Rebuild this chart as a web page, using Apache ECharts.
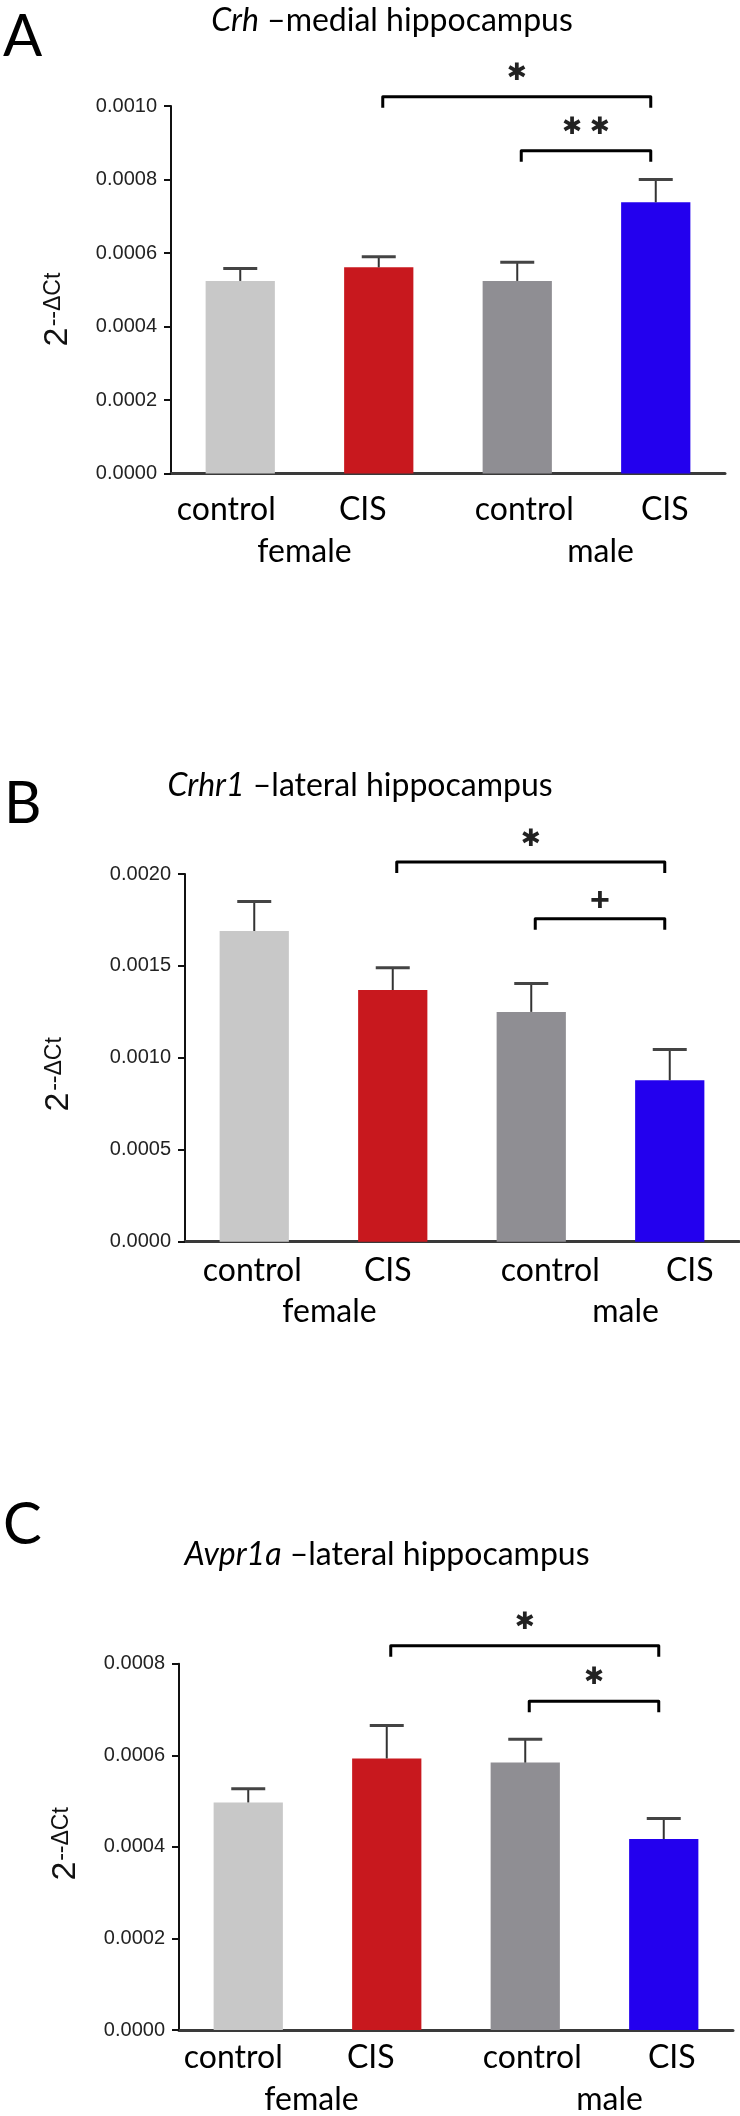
<!DOCTYPE html>
<html><head><meta charset="utf-8">
<script src="https://cdn.jsdelivr.net/npm/echarts@6/dist/echarts.min.js"></script>
<style>html,body{margin:0;padding:0;background:#fff}#c{width:740px;height:2116px}</style>
</head><body><div id="c"></div>
<script>
// ---------- data ----------
const categories = ['control', 'CIS', 'control', 'CIS'];
const groups = ['female', 'male'];
const barColors = ['#c8c8c8', '#c8181e', '#8f8e93', '#2300ee'];

const titleA = ['Crh', ' –medial hippocampus'];
const meansA = [0.000524, 0.000561, 0.000524, 0.000738];
const semA   = [0.000034, 0.000029, 0.000051, 0.000062];
const ticksA = [0, 0.0002, 0.0004, 0.0006, 0.0008, 0.0010];
const bracketsA = [[1, 3, 0.001025, '✱'], [2, 3, 0.000878, '✱ ✱']];

const titleB = ['Crhr1', ' –lateral hippocampus'];
const meansB = [0.00169, 0.001369, 0.00125, 0.000878];
const semB   = [0.00016, 0.000121, 0.000155, 0.000167];
const ticksB = [0, 0.0005, 0.0010, 0.0015, 0.0020];
const bracketsB = [[1, 3, 0.002065, '✱'], [2, 3, 0.001756, '+']];

const titleC = ['Avpr1a', ' –lateral hippocampus'];
const meansC = [0.000497, 0.000593, 0.000584, 0.000417];
const semC   = [0.000030, 0.000072, 0.000051, 0.000045];
const ticksC = [0, 0.0002, 0.0004, 0.0006, 0.0008];
const bracketsC = [[1, 3, 0.000839, '✱'], [2, 3, 0.000718, '✱']];

const yName = ['2', '--ΔCt'];
const letters = ['A', 'B', 'C'];

// ---------- layout / style ----------
// name: [x of "2" centre, y of "2" centre, x of superscript centre, y of superscript centre]
const layouts = [
  {left:171, top:106, height:367.5, catShift:[-14,-16,7,9], grpShift:[-5,14], catMargin:20, grpMargin:62, name:[57.5,337,53.5,299.5], title:[392,21], letter:[3,37], starGap:23},
  {left:185, top:874, height:367.7, catShift:[-2,-5,19,20], grpShift:[6,25], catMargin:13, grpMargin:54, name:[59,1102,55,1064], title:[360,786], letter:[4,804], starGap:22},
  {left:179, top:1663.7, height:367.5, catShift:[-15,-16,7,8], grpShift:[-6,15], catMargin:12, grpMargin:54, name:[66,1871,62,1834], title:[387,1555], letter:[3,1525], starGap:23}
];
const panels = [
  {title:titleA, means:meansA, sem:semA, ticks:ticksA, brackets:bracketsA},
  {title:titleB, means:meansB, sem:semB, ticks:ticksB, brackets:bracketsB},
  {title:titleC, means:meansC, sem:semC, ticks:ticksC, brackets:bracketsC}
];

function pad(s) { return s < 0 ? [0, -2 * s, 0, 0] : [0, 0, 0, 2 * s]; }

const option = {animation:false, backgroundColor:'#fff', grid:[], xAxis:[], yAxis:[], series:[], graphic:[]};

panels.forEach((p, k) => {
  const L = layouts[k];
  option.grid.push({left:L.left, top:L.top, width:554, height:L.height});
  option.xAxis.push({
    type:'category', gridIndex:k, position:'bottom',
    data: categories.map((c, i) => ({value:c, textStyle:{padding:pad(L.catShift[i])}})),
    axisLine:{lineStyle:{color:'#3a3a3a', width:3}},
    axisTick:{show:false},
    axisLabel:{interval:0, margin:L.catMargin, fontFamily:'Lato', fontSize:32, color:'#000'}
  });
  option.xAxis.push({
    type:'category', gridIndex:k, position:'bottom',
    data: groups.map((g, i) => ({value:g, textStyle:{padding:pad(L.grpShift[i])}})),
    axisLine:{show:false}, axisTick:{show:false},
    axisLabel:{interval:0, margin:L.grpMargin, fontFamily:'Lato', fontSize:32, color:'#000'}
  });
  const t = p.ticks;
  option.yAxis.push({
    type:'value', gridIndex:k, min:t[0], max:t[t.length - 1], interval:t[1] - t[0],
    splitLine:{show:false},
    axisLine:{show:true, lineStyle:{color:'#111', width:2}},
    axisTick:{show:true, length:7, lineStyle:{color:'#111', width:2}},
    axisLabel:{formatter:v => v.toFixed(4), fontFamily:'Liberation Sans', fontSize:20, color:'#222', margin:14}
  });
  option.series.push({
    type:'bar', xAxisIndex:2 * k, yAxisIndex:k, barWidth:'50%',
    data:p.means.map((v, i) => ({value:v, itemStyle:{color:barColors[i]}})),
    z:2
  });
  option.series.push({
    type:'custom', xAxisIndex:2 * k, yAxisIndex:k, clip:false, z:3,
    data:p.means.map((m, i) => [i, m, m + p.sem[i]]),
    encode:{x:0, y:[1, 2]},
    renderItem:(params, api) => {
      const i = api.value(0);
      const a = api.coord([i, api.value(1)]);
      const b = api.coord([i, api.value(2)]);
      return {type:'group', children:[
        {type:'line', shape:{x1:a[0], y1:a[1], x2:b[0], y2:b[1]}, style:{stroke:'#333', lineWidth:2}},
        {type:'line', shape:{x1:b[0] - 17, y1:b[1], x2:b[0] + 17, y2:b[1]}, style:{stroke:'#444', lineWidth:3}}
      ]};
    }
  });
  option.series.push({
    type:'custom', xAxisIndex:2 * k, yAxisIndex:k, clip:false, z:4,
    data:p.brackets.map(b => [b[0], b[1], b[2]]),
    encode:{x:[0, 1], y:2},
    renderItem:(params, api) => {
      const br = p.brackets[params.dataIndex];
      const a = api.coord([br[0], br[2]]);
      const c = api.coord([br[1], br[2]]);
      const x1 = a[0] + 4, x2 = c[0] - 5, y = a[1];
      const isPlus = br[3] === '+';
      return {type:'group', children:[
        {type:'polyline', shape:{points:[[x1, y + 11], [x1, y], [x2, y], [x2, y + 11]]},
          style:{stroke:'#000', lineWidth:3, fill:null, lineJoin:'round'}},
        {type:'text', style:{text:br[3], x:(x1 + x2) / 2, y:y - (isPlus ? 17 : L.starGap), align:'center', verticalAlign:'middle',
          fill:'#222', font:(isPlus ? 'bold 34px "Liberation Sans"' : 'normal 24px "DejaVu Sans"')}}
      ]};
    }
  });
  // y-axis name: "2" with superscript "--ΔCt", rotated
  option.graphic.push({type:'text', x:L.name[0], y:L.name[1], rotation:Math.PI / 2, style:{
    text:yName[0], align:'center', verticalAlign:'middle', font:'normal 34px "Liberation Sans"', fill:'#111'
  }});
  option.graphic.push({type:'text', x:L.name[2], y:L.name[3], rotation:Math.PI / 2, style:{
    text:yName[1], align:'center', verticalAlign:'middle', font:'normal 23px "Liberation Sans"', fill:'#111'
  }});
  option.graphic.push({type:'text', x:L.title[0], y:L.title[1], style:{
    text:'{i|' + p.title[0] + '}{n|' + p.title[1] + '}', align:'center', verticalAlign:'middle',
    rich:{i:{fontFamily:'Lato', fontStyle:'italic', fontSize:32, fill:'#000'}, n:{fontFamily:'Lato', fontSize:32, fill:'#000'}}
  }});
  option.graphic.push({type:'text', x:L.letter[0], y:L.letter[1], style:{
    text:letters[k], align:'left', verticalAlign:'middle', font:'normal 58px Lato', fill:'#000'
  }});
});

const chart = echarts.init(document.getElementById('c'), null, {renderer:'canvas', width:740, height:2116});
chart.setOption(option);
</script>
</body></html>
